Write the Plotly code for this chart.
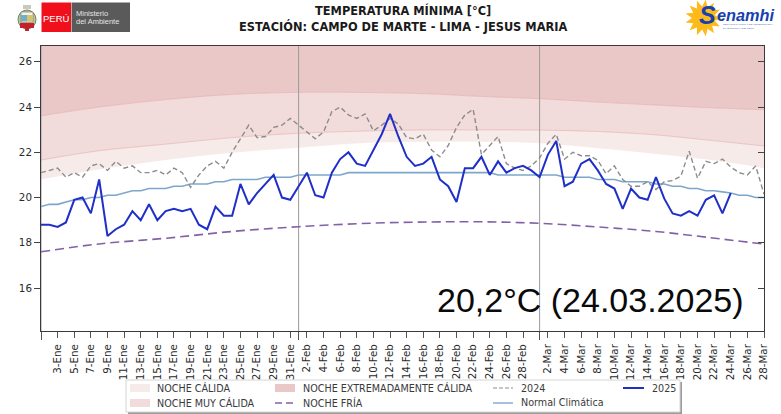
import numpy as np
import plotly.graph_objects as go

# ---- data (x = day index, 29-Feb included on the axis) ----
tmin_2025 = [18.8,18.8,18.7,18.9,19.9,20.0,19.3,20.8,18.3,18.6,18.8,19.4,19.0,19.7,19.0,19.4,19.5,19.4,19.5,18.8,
             18.6,19.6,19.2,19.2,20.6,19.7,20.2,20.6,21.0,20.0,19.9,20.5,21.1,20.1,20.0,21.1,21.7,22.0,21.5,21.4,
             22.1,22.8,23.7,22.7,21.8,21.4,21.5,21.8,20.8,20.5,19.8,21.3,21.3,21.8,21.0,21.6,21.1,21.3,21.4,21.2,
             20.9,21.9,22.5,20.5,20.7,21.5,21.7,21.2,20.6,20.4,19.5,20.4,20.0,19.9,20.9,19.95,19.3,19.2,19.4,19.2,
             19.9,20.1,19.3,20.2]
tmin_2024 = [21.1,21.2,21.3,20.9,21.1,20.9,21.4,21.5,21.2,21.6,21.3,21.4,21.1,21.1,21.2,21.0,21.3,21.1,20.45,21.0,
             21.4,21.6,21.3,22.0,22.6,23.2,22.65,22.7,23.1,23.2,23.5,23.2,22.9,22.6,22.9,23.8,24.0,23.65,23.5,23.7,
             22.95,23.2,23.5,23.25,22.65,22.6,22.8,22.1,21.8,22.3,23.1,23.65,23.9,21.9,22.3,22.7,21.5,21.3,21.2,21.4,
             21.75,22.4,22.8,21.7,22.0,21.85,21.85,21.65,21.05,21.4,20.8,20.5,20.5,20.7,20.35,20.7,20.75,20.95,22.05,20.85,
             21.6,21.5,21.7,21.35,21.1,21.0,21.4,20.15]
normal = [19.6,19.7,19.7,19.8,19.9,19.9,20.0,20.0,20.1,20.1,20.2,20.3,20.3,20.4,20.4,20.4,20.5,20.5,20.6,20.6,
          20.6,20.7,20.7,20.8,20.8,20.8,20.8,20.9,20.9,20.9,20.9,21.0,21.0,21.0,21.0,21.0,21.0,21.1,21.1,21.1,
          21.1,21.1,21.1,21.1,21.1,21.1,21.1,21.1,21.1,21.1,21.1,21.1,21.1,21.1,21.1,21.0,21.0,21.0,21.0,21.0,
          21.0,21.0,21.0,20.9,20.9,20.9,20.9,20.8,20.8,20.8,20.7,20.7,20.7,20.7,20.6,20.6,20.5,20.5,20.4,20.4,
          20.3,20.3,20.25,20.2,20.1,20.1,20.0,20.0]

band_days = [0, 7, 15, 23, 31, 40, 47, 53, 60, 67, 74, 80, 87]
calida_low = [20.81,21.24,21.66,21.98,22.20,22.43,22.47,22.47,22.40,22.18,21.93,21.69,21.30]
calida_top = [21.66,22.07,22.36,22.65,22.84,22.95,22.99,22.99,22.98,22.92,22.77,22.55,22.28]
muy_calida_top = [23.61,24.00,24.33,24.56,24.65,24.64,24.58,24.47,24.37,24.22,24.09,23.98,23.88]
extrema_top = [26.7] * 13
fria = [17.60,17.95,18.20,18.50,18.71,18.87,18.92,18.93,18.86,18.70,18.50,18.25,17.94]

month_starts = [0, 31, 60]
tick_vals = list(range(2, 59, 2)) + list(range(61, 88, 2))
tick_labels = ["3-Ene","5-Ene","7-Ene","9-Ene","11-Ene","13-Ene","15-Ene","17-Ene","19-Ene","21-Ene","23-Ene","25-Ene",
               "27-Ene","29-Ene","31-Ene","2-Feb","4-Feb","6-Feb","8-Feb","10-Feb","12-Feb","14-Feb","16-Feb","18-Feb",
               "20-Feb","22-Feb","24-Feb","26-Feb","28-Feb","2-Mar","4-Mar","6-Mar","8-Mar","10-Mar","12-Mar","14-Mar",
               "16-Mar","18-Mar","20-Mar","22-Mar","24-Mar","26-Mar","28-Mar"]
y_ticks = [16, 18, 20, 22, 24, 26]
y_range = [14.1, 26.7]

# ---- styles ----
FONT = "DejaVu Sans"
C_CAL, C_MUY, C_EXT = "#f6ebe9", "#f2dbdb", "#ebc8c8"
C_EDGE = "rgba(225,160,160,0.5)"
C_2024, C_2025, C_NORM, C_FRIA = "#8c8c8c", "#1f2fc8", "#7ea6cc", "#8460a8"
INK = "#2a2a2a"

L, R, T, B = 41, 764, 46, 331
def px(x): return (x - L) / (R - L)
def py(y): return (B - y) / (B - T)

fig = go.Figure()
def band(y, name, fill=None, color=None, edge=True):
    fig.add_trace(go.Scatter(x=band_days, y=y, name=name, mode="lines", showlegend=False, hoverinfo="skip",
                             line=dict(shape="spline", width=1 if edge else 0, color=C_EDGE if edge else "rgba(0,0,0,0)"),
                             fill=fill, fillcolor=color))
band(calida_low, "base", edge=False)
band(calida_top, "NOCHE CÁLIDA", "tonexty", C_CAL)
band(muy_calida_top, "NOCHE MUY CÁLIDA", "tonexty", C_MUY)
band(extrema_top, "NOCHE EXTREMADAMENTE CÁLIDA", "tonexty", C_EXT, edge=False)

vx, vy = [], []
for m in month_starts:
    vx += [m, m, None]; vy += [y_range[0], y_range[1], None]
fig.add_trace(go.Scatter(x=vx, y=vy, mode="lines", showlegend=False, hoverinfo="skip",
                         line=dict(color="#9a9a9a", width=1)))

days = list(range(88))
fig.add_trace(go.Scatter(x=band_days, y=fria, name="NOCHE FRÍA", mode="lines", showlegend=False,
                         line=dict(color=C_FRIA, width=1.6, dash="9px,5px", shape="spline")))
fig.add_trace(go.Scatter(x=days, y=normal, name="Normal Climática", mode="lines", showlegend=False,
                         line=dict(color=C_NORM, width=1.6)))
fig.add_trace(go.Scatter(x=days, y=tmin_2024, name="2024", mode="lines", showlegend=False,
                         line=dict(color=C_2024, width=1.4, dash="5px,3px")))
fig.add_trace(go.Scatter(x=days[:len(tmin_2025)], y=tmin_2025, name="2025", mode="lines", showlegend=False,
                         line=dict(color=C_2025, width=2)))
# carries the inward ticks of the right-hand axis
fig.add_trace(go.Scatter(x=days, y=normal, yaxis="y2", mode="lines", showlegend=False, hoverinfo="skip",
                         line=dict(color="rgba(0,0,0,0)", width=0)))

shapes, annos = [], []
def rect(x0, y0, x1, y1, fill, line=None, lw=0):
    shapes.append(dict(type="rect", xref="paper", yref="paper", x0=px(x0), x1=px(x1), y0=py(y0), y1=py(y1),
                       fillcolor=fill, line=dict(color=line or fill, width=lw), layer="above"))
def seg(x0, x1, y, color, w, dash="solid"):
    shapes.append(dict(type="line", xref="paper", yref="paper", x0=px(x0), x1=px(x1), y0=py(y), y1=py(y),
                       line=dict(color=color, width=w, dash=dash), layer="above"))
def text(x, y, s, size, color=INK, anchor="left", family=FONT):
    annos.append(dict(xref="paper", yref="paper", x=px(x), y=py(y), text=s, showarrow=False, xanchor=anchor,
                      yanchor="middle", font=dict(family=family, size=size, color=color), borderpad=0, borderwidth=0))

# titles
text(403, 10.5, "<b>TEMPERATURA MÍNIMA [°C]</b>", 11.4, "#1a1a1a", "center")
text(403, 26, "<b>ESTACIÓN: CAMPO DE MARTE - LIMA - JESUS MARIA</b>", 11.4, "#1a1a1a", "center")
# highlighted value
text(590.5, 300, "20,2°C (24.03.2025)", 34, "#0a0a0a", "center", "Liberation Sans")

# legend
rect(128, 382, 682, 414, "#9c9c9c")
rect(126, 380, 680, 412, "#ffffff", "#d4d4d4", 1)
rect(130, 384, 150, 392, C_CAL); rect(130, 399, 150, 407, C_MUY)
rect(275, 384, 295, 392, C_EXT)
seg(275, 295, 403, C_FRIA, 1.4, "7px,4px")
seg(493, 513, 388, C_2024, 1.2, "4px,2px")
seg(493, 513, 403, C_NORM, 1.4)
seg(623, 644, 388, C_2025, 2)
for x, y, s in [(157, 388, "NOCHE CÁLIDA"), (157, 402.5, "NOCHE MUY CÁLIDA"),
                (303, 388, "NOCHE EXTREMADAMENTE CÁLIDA"), (303, 402.5, "NOCHE FRÍA"),
                (521, 388, "2024"), (521, 402.5, "Normal Climática"), (652, 388, "2025")]:
    text(x, y, s, 9.6, "#3a3a3a")

# Peru / ministry logo
rect(41.5, 2.5, 71, 32, "#f0101c")
rect(71.5, 2.5, 130, 32, "#5a5a5a")
text(56.3, 19, "PERÚ", 9.5, "#ffffff", "center", "Liberation Sans")
text(76, 13.5, "Ministerio", 7.5, "#e4e4e4", "left", "Liberation Sans")
text(76, 21.5, "del Ambiente", 7.5, "#e4e4e4", "left", "Liberation Sans")
# coat of arms
shapes.append(dict(type="circle", xref="paper", yref="paper", x0=px(18), x1=px(36), y0=py(29), y1=py(10),
                   fillcolor="#b8c4a8", line=dict(color="#6b8a5a", width=1), layer="above"))
rect(21, 12, 33, 22, "#f3f3ee", "#7a6a50", 0.6)
rect(21, 15, 27, 21, "#6fb0c8"); rect(27, 15, 33, 21, "#d8c468")
rect(20, 23, 34, 28, "#c8202a")
rect(23, 5, 31, 9, "#c9c9c0")
rect(25, 28, 29, 31, "#c8202a")

# Senamhi logo: sun, then blue lettering
cx, cy, n = 703.5, 18, 13
ang = np.linspace(0, 2 * np.pi, 2 * n, endpoint=False)
rad = np.where(np.arange(2 * n) % 2 == 0, 18.5, 11.5)
pts = [(px(cx + r * np.cos(a)), py(cy + r * np.sin(a))) for r, a in zip(rad, ang)]
path = "M " + " L ".join(f"{a:.5f} {b:.5f}" for a, b in pts) + " Z"
shapes.append(dict(type="path", xref="paper", yref="paper", path=path, fillcolor="#fdbb1a",
                   line=dict(color="#fdbb1a", width=0), layer="above"))
text(699, 15.5, "<b><i>S</i></b>", 25, "#1740b0", "left", "Liberation Sans")
text(717, 15, "<b><i>enamhi</i></b>", 16.3, "#1740b0", "left", "Liberation Sans")
text(723, 25, "SERVICIO NACIONAL DE METEOROLOGÍA", 2.5, "#5070c0", "left", "Liberation Sans")
text(723, 28.5, "E HIDROLOGÍA DEL PERÚ", 2.5, "#5070c0", "left", "Liberation Sans")

fig.update_layout(
    width=781, height=414, autosize=False,
    margin=dict(l=L, r=781 - R, t=T, b=414 - B, pad=0),
    paper_bgcolor="white", plot_bgcolor="white", showlegend=False,
    font=dict(family=FONT, color=INK, size=10),
    shapes=shapes, annotations=annos,
    xaxis=dict(range=[0, 87], tickmode="array", tickvals=tick_vals, ticktext=tick_labels, tickangle=-90,
               ticks="outside", ticklen=6, tickwidth=1, tickcolor="#555555", tickfont=dict(size=10.3, color=INK),
               ticklabelstandoff=2,
               showgrid=False, zeroline=False, showline=True, linecolor="#3a3a3a", linewidth=1, mirror=True,
               minor=dict(tickmode="array", tickvals=month_starts, ticks="outside", ticklen=7.5, tickwidth=1,
                          tickcolor="#555555", showgrid=False)),
    yaxis=dict(range=y_range, tickmode="array", tickvals=y_ticks, ticks="outside", ticklen=6, tickwidth=1,
               tickcolor="#444444", tickfont=dict(size=10.3, color=INK),
               showgrid=False, zeroline=False, showline=True, linecolor="#3a3a3a", linewidth=1, mirror=True),
    yaxis2=dict(range=y_range, overlaying="y", side="right", anchor="x", tickmode="array", tickvals=y_ticks,
                ticks="inside", ticklen=6, tickwidth=1, tickcolor="#444444", showticklabels=False,
                showgrid=False, zeroline=False),
)
fig.write_html("out.html", config={"displayModeBar": False},
               post_script="document.body.style.margin='0';document.body.style.overflow='hidden';")
